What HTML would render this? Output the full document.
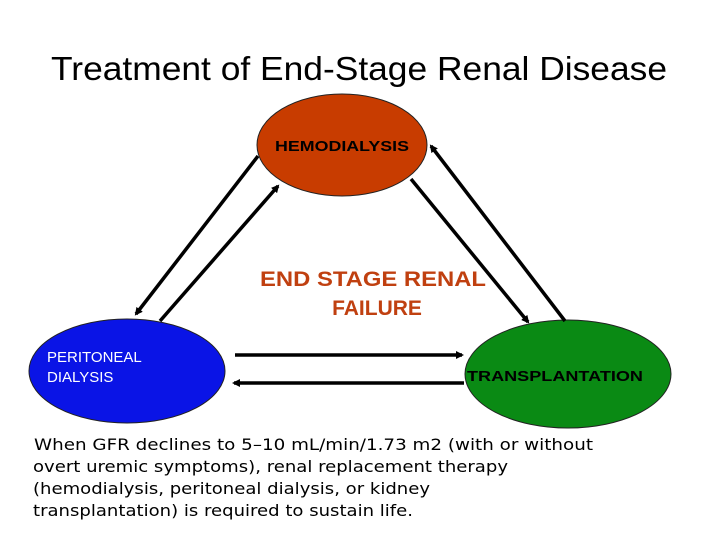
<!DOCTYPE html>
<html><head><meta charset="utf-8"><style>
html,body{margin:0;padding:0;background:#fff;}
svg{display:block}
</style></head><body>
<svg width="720" height="540" viewBox="0 0 720 540" xmlns="http://www.w3.org/2000/svg">
<defs>
<marker id="ah" markerWidth="8" markerHeight="8" refX="6" refY="4" orient="auto" markerUnits="userSpaceOnUse">
<path d="M0,0 L8,4 L0,8 Z" fill="#000"/>
</marker>
</defs>
<text x="359" y="80" text-anchor="middle" font-family="Liberation Sans, sans-serif" font-size="33" fill="#000" textLength="616" lengthAdjust="spacingAndGlyphs">Treatment of End-Stage Renal Disease</text>

<ellipse cx="342" cy="145" rx="85" ry="51" fill="#c83c00" stroke="#222" stroke-width="1"/>
<ellipse cx="127" cy="371" rx="98" ry="52" fill="#0a14e6" stroke="#222" stroke-width="1"/>
<ellipse cx="568" cy="374" rx="103" ry="54" fill="#0a8a14" stroke="#222" stroke-width="1"/>

<text x="342" y="151" text-anchor="middle" font-family="Liberation Sans, sans-serif" font-weight="bold" font-size="15" fill="#000" textLength="134" lengthAdjust="spacingAndGlyphs">HEMODIALYSIS</text>
<text x="47" y="362" font-family="Liberation Sans, sans-serif" font-size="15" fill="#fff">PERITONEAL</text>
<text x="47" y="382" font-family="Liberation Sans, sans-serif" font-size="15" fill="#fff">DIALYSIS</text>
<text x="555" y="381" text-anchor="middle" font-family="Liberation Sans, sans-serif" font-weight="bold" font-size="15" fill="#000" textLength="176" lengthAdjust="spacingAndGlyphs">TRANSPLANTATION</text>

<text x="373" y="286" text-anchor="middle" font-family="Liberation Sans, sans-serif" font-weight="bold" font-size="21" fill="#c04010" textLength="226" lengthAdjust="spacingAndGlyphs">END STAGE RENAL</text>
<text x="377" y="315" text-anchor="middle" font-family="Liberation Sans, sans-serif" font-weight="bold" font-size="21" fill="#c04010">FAILURE</text>

<g stroke="#000" stroke-width="3.5" fill="none">
<line x1="258" y1="156" x2="136" y2="314" marker-end="url(#ah)"/>
<line x1="160" y1="321" x2="278" y2="186" marker-end="url(#ah)"/>
<line x1="411" y1="179" x2="528" y2="322" marker-end="url(#ah)"/>
<line x1="565" y1="321" x2="431" y2="146" marker-end="url(#ah)"/>
<line x1="235" y1="355" x2="462" y2="355" marker-end="url(#ah)"/>
<line x1="464" y1="383" x2="234" y2="383" marker-end="url(#ah)"/>
</g>

<g font-family="DejaVu Sans, sans-serif" font-size="16" fill="#000">
<text x="34" y="450" textLength="559" lengthAdjust="spacingAndGlyphs">When GFR declines to 5–10 mL/min/1.73 m2 (with or without</text>
<text x="33" y="472" textLength="475" lengthAdjust="spacingAndGlyphs">overt uremic symptoms), renal replacement therapy</text>
<text x="33" y="494" textLength="397" lengthAdjust="spacingAndGlyphs">(hemodialysis, peritoneal dialysis, or kidney</text>
<text x="33" y="516" textLength="380" lengthAdjust="spacingAndGlyphs">transplantation) is required to sustain life.</text>
</g>
</svg>
</body></html>
